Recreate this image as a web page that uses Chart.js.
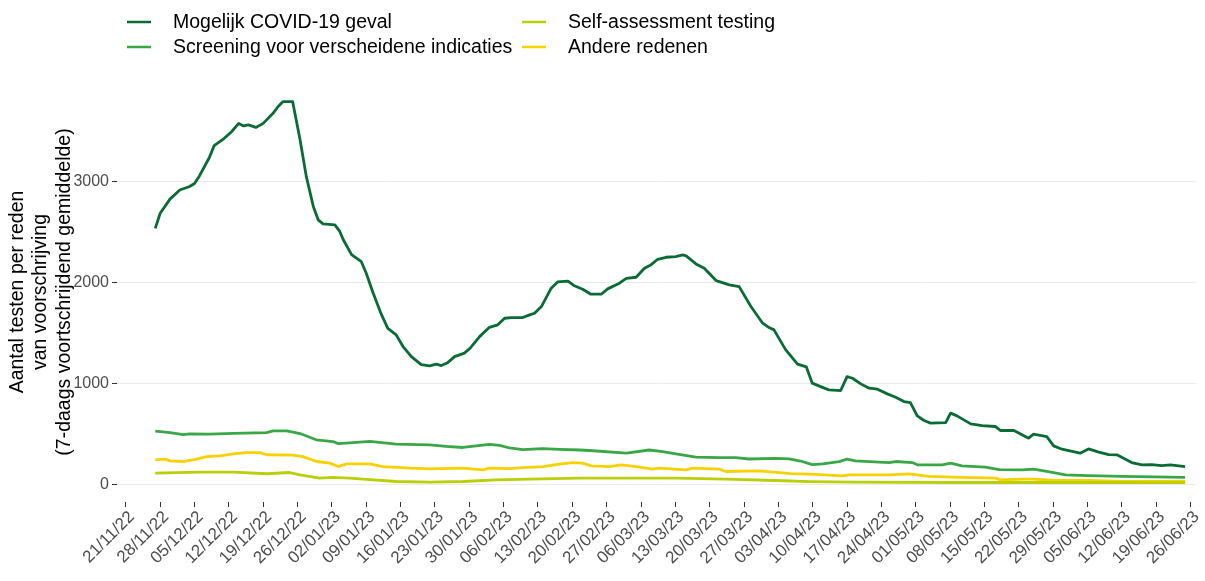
<!DOCTYPE html>
<html>
<head>
<meta charset="utf-8">
<script src="https://cdn.jsdelivr.net/npm/chart.js@4.4.0/dist/chart.umd.min.js"></script>
<style>
  html, body { margin: 0; padding: 0; background: #fff; }
</style>
</head>
<body>
<canvas id="myChart" width="1205" height="581"></canvas>
<script>
// week labels (one tick every 7 days, day 0 = 21/11/22)
const weekLabels = ['21/11/22', '28/11/22', '05/12/22', '12/12/22', '19/12/22', '26/12/22',
  '02/01/23', '09/01/23', '16/01/23', '23/01/23', '30/01/23', '06/02/23', '13/02/23',
  '20/02/23', '27/02/23', '06/03/23', '13/03/23', '20/03/23', '27/03/23', '03/04/23',
  '10/04/23', '17/04/23', '24/04/23', '01/05/23', '08/05/23', '15/05/23', '22/05/23',
  '29/05/23', '05/06/23', '12/06/23', '19/06/23', '26/06/23'];
const yTicks = [0, 1000, 2000, 3000];

// Mogelijk COVID-19 geval (day since 21/11/22, value)
const covidDays = [6, 7, 9, 11, 13, 14, 15, 17, 18, 20, 21.5, 23, 24, 25, 26.5, 28, 30, 31, 32, 34,
  35.5, 36.8, 38.2, 39.2, 40.2, 42.6, 43.6, 44.3, 46, 48, 49, 50.4, 52.1, 53.4, 55.1, 56.5, 58.2,
  60.2, 61.9, 63.3, 64.3, 65.6, 67, 69, 70.1, 72.1, 74.1, 75.8, 77.2, 78.6, 80.9, 82.3, 83.3, 84.7,
  86.7, 88, 90.1, 91.3, 93.1, 94.8, 96.9, 98.2, 100.6, 102, 104, 105.7, 107, 108.4, 110.1, 112.1,
  113.5, 114.2, 116.2, 117.9, 120.3, 123, 125, 127.4, 129.8, 131.1, 132.1, 134.5, 136.9, 138.7,
  139.9, 141.6, 143.3, 145.7, 147, 148.1, 149.8, 151.5, 153.2, 155.2, 156.9, 158.6, 159.9, 161.3,
  162.7, 164, 167.1, 168.1, 169.4, 172.2, 174.5, 177.2, 178.3, 181, 184, 185, 187.7, 189.1, 190.8,
  194.5, 196.2, 198.3, 200.3, 202, 205, 207.1, 209.1, 211.1, 212.9, 215.9];
const covidValues = [2540, 2690, 2830, 2920, 2955, 2985, 3060, 3240, 3360, 3430, 3495, 3580, 3555,
  3565, 3540, 3580, 3680, 3745, 3795, 3795, 3420, 3050, 2760, 2625, 2585, 2575, 2510, 2430, 2280,
  2210, 2096, 1900, 1685, 1550, 1485, 1370, 1270, 1190, 1178, 1195, 1181, 1210, 1270, 1305, 1350,
  1468, 1560, 1585, 1650, 1657, 1657, 1683, 1700, 1766, 1948, 2010, 2018, 1975, 1937, 1888, 1888,
  1941, 1997, 2046, 2056, 2145, 2178, 2234, 2254, 2261, 2277, 2267, 2188, 2145, 2023, 1980, 1963,
  1766, 1601, 1558, 1535, 1337, 1195, 1168, 1007, 973, 941, 934, 1072, 1056, 1000, 957, 947, 901,
  868, 825, 815, 683, 637, 611, 617, 710, 683, 604, 587, 578, 538, 538, 462, 502, 478, 386, 353,
  314, 356, 324, 300, 297, 221, 198, 201, 191, 198, 181];

// Screening voor verscheidene indicaties
const screeningDays = [6, 9, 11.7, 13, 17, 22, 28.7, 30, 32.8, 35.5, 38.8, 42.2, 43.3, 45.6, 49.7,
  55.1, 61.9, 65.3, 68.7, 74.1, 76.2, 78.2, 80.9, 85, 88.4, 92.5, 94.5, 102, 106.7, 109.4, 112.1,
  116.2, 121, 124.3, 127, 132.4, 135.2, 137.5, 139.9, 142, 145.4, 147, 148.7, 155.5, 156.9, 160.3,
  161.3, 166.4, 168.1, 170.4, 175.2, 178, 182.7, 185, 188, 191.5, 196.2, 203, 215.9];
const screeningValues = [532, 518, 497, 505, 502, 510, 518, 535, 535, 508, 446, 429, 408, 415, 430,
  403, 396, 380, 370, 400, 390, 365, 348, 358, 352, 345, 340, 314, 345, 330, 307, 274, 270, 270,
  256, 262, 258, 236, 200, 208, 230, 255, 238, 221, 231, 221, 198, 198, 215, 188, 175, 150, 149,
  155, 132, 99, 92, 83, 73];

// Self-assessment testing
const selfDays = [6, 15.1, 22, 28.7, 33.4, 35.5, 39.5, 42.2, 45.6, 48.4, 55.1, 61.9, 68.7, 75.5,
  82.3, 92.5, 95.2, 112.1, 122.3, 132.4, 139.3, 148.7, 169, 189.5, 215.9];
const selfValues = [116, 126, 126, 110, 122, 99, 66, 73, 66, 56, 33, 27, 33, 50, 56, 66, 66, 66,
  56, 43, 32, 27, 23, 23, 22];

// Andere redenen
const andereDays = [6, 8, 9, 11.7, 14.4, 16.5, 19.2, 21.9, 24.6, 27.3, 28.7, 34.1, 36.1, 38.9, 41.6,
  43.3, 45, 49.7, 52.4, 57.9, 61.9, 68.7, 72.8, 74.1, 78.2, 80.9, 85, 88.4, 91.1, 93.1, 94.8, 98.6,
  100.9, 104, 107.4, 108.7, 114.2, 115.5, 121, 122.3, 129.1, 135.5, 139.6, 146, 147.4, 155.5,
  159.6, 163.7, 168.4, 170.4, 177.2, 178.3, 182.7, 185, 189.5, 196, 203, 215.9];
const andereValues = [248, 254, 238, 231, 254, 280, 287, 307, 320, 320, 298, 294, 280, 231, 215,
  181, 208, 208, 181, 165, 158, 165, 149, 165, 161, 171, 181, 205, 221, 215, 188, 181, 198, 181,
  155, 165, 149, 165, 155, 132, 139, 112, 106, 89, 99, 99, 109, 83, 76, 73, 66, 50, 56, 56, 43,
  43, 33, 33];

const toPoints = (days, values) => days.map((d, i) => ({ x: d, y: values[i] }));
const FONT = '"Liberation Sans", Arial, sans-serif';

const legendPlugin = {
  id: 'topLegend',
  afterDraw(chart) {
    const c = chart.ctx;
    const spots = [[127, 22], [127, 47], [522, 22], [522, 47]];
    c.save();
    c.font = '19.5px ' + FONT;
    c.textBaseline = 'middle';
    chart.data.datasets.forEach((ds, i) => {
      const [x, y] = spots[i];
      c.strokeStyle = ds.borderColor;
      c.lineWidth = 2.5;
      c.beginPath();
      c.moveTo(x, y);
      c.lineTo(x + 24, y);
      c.stroke();
      c.fillStyle = '#000';
      c.fillText(ds.label, x + 46, y + 1);
    });
    c.restore();
  }
};

const ctx = document.getElementById('myChart');

new Chart(ctx, {
  type: 'line',
  data: {
    datasets: [{
      label: 'Mogelijk COVID-19 geval',
      data: toPoints(covidDays, covidValues),
      borderColor: '#0b6b34',
      borderWidth: 2.8
    },
    {
      label: 'Screening voor verscheidene indicaties',
      data: toPoints(screeningDays, screeningValues),
      borderColor: '#3aa746',
      borderWidth: 2.8
    },
    {
      label: 'Self-assessment testing',
      data: toPoints(selfDays, selfValues),
      borderColor: '#b8cf0a',
      borderWidth: 2.8
    },
    {
      label: 'Andere redenen',
      data: toPoints(andereDays, andereValues),
      borderColor: '#f7d100',
      borderWidth: 2.8
    }]
  },
  options: {
    responsive: false,
    animation: false,
    devicePixelRatio: 1,
    layout: {
      padding: { top: 82, right: 8, left: 0, bottom: 0 }
    },
    elements: {
      point: { radius: 0 },
      line: { tension: 0, borderJoinStyle: 'round' }
    },
    scales: {
      x: {
        type: 'linear',
        min: -1.8,
        max: 218,
        afterBuildTicks: (scale) => {
          scale.ticks = weekLabels.map((l, i) => ({ value: i * 7 }));
        },
        afterFit: (scale) => { scale.height = 79; },
        border: { display: false },
        grid: {
          drawOnChartArea: false,
          drawTicks: true,
          tickLength: 5,
          tickWidth: 1,
          tickColor: '#333'
        },
        ticks: {
          autoSkip: false,
          maxRotation: 45,
          minRotation: 45,
          padding: 0,
          labelOffset: 6,
          color: '#4d4d4d',
          font: { family: FONT, size: 17 },
          callback: (v) => weekLabels[Math.round(v / 7)]
        }
      },
      y: {
        min: -170,
        max: 3990,
        afterBuildTicks: (scale) => {
          scale.ticks = yTicks.map(v => ({ value: v }));
        },
        afterFit: (scale) => { scale.width = 117; },
        border: { display: false },
        grid: {
          color: '#ebebeb',
          lineWidth: 1,
          tickLength: 5,
          tickWidth: 1,
          tickColor: '#333'
        },
        ticks: {
          padding: 3,
          color: '#4d4d4d',
          font: { family: FONT, size: 16 },
          callback: (v) => String(v)
        },
        title: {
          display: true,
          text: ['Aantal testen per reden', 'van voorschrijving', '(7-daags voortschrijdend gemiddelde)'],
          color: '#000',
          font: { family: FONT, size: 19.5, lineHeight: 1.2 },
          padding: { top: 6, bottom: 0 }
        }
      }
    },
    plugins: {
      legend: { display: false },
      tooltip: { enabled: false }
    }
  },
  plugins: [legendPlugin]
});
</script>
</body>
</html>
